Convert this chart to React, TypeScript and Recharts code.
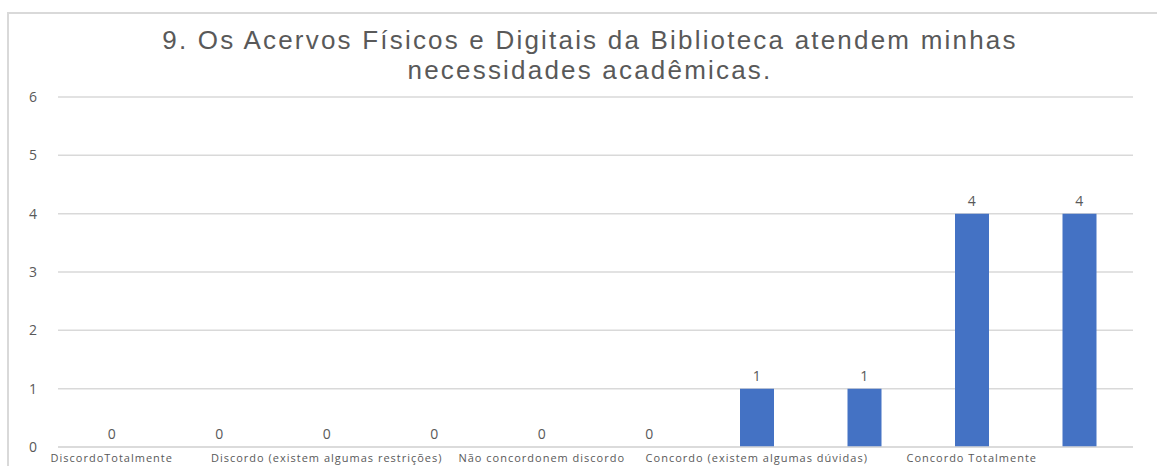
import { ComposedChart, Bar, Line, XAxis, YAxis, CartesianGrid, LabelList } from "recharts"

const categories = [
  "DiscordoTotalmente",
  "DiscordoTotalmente",
  "Discordo (existem algumas restrições)",
  "Discordo (existem algumas restrições)",
  "Não concordonem discordo",
  "Não concordonem discordo",
  "Concordo (existem algumas dúvidas)",
  "Concordo (existem algumas dúvidas)",
  "Concordo Totalmente",
  "Concordo Totalmente",
]
const counts = [0, 0, 0, 0, 0, 0, 1, 1, 4, 4]
const yTicks = [0, 1, 2, 3, 4, 5, 6]

const data = categories.map((name, i) => ({ name, count: counts[i] }))

const GRAY = "#595959"
const FONT = "'Open Sans', sans-serif"

export default function App() {
  return (
    <div style={{ position: "absolute", left: 0, top: 0, width: 1157, height: 466, background: "#fff", overflow: "hidden" }}>
      <div
        style={{
          position: "absolute",
          left: 7,
          top: 12,
          width: 1200,
          height: 500,
          border: "2px solid #d9d9d9",
        }}
      />
      <div
        style={{
          position: "absolute",
          left: 0,
          top: 25,
          width: 1180,
          textAlign: "center",
          fontFamily: "'Liberation Sans', Arial, sans-serif",
          fontSize: 26,
          letterSpacing: 2.2,
          lineHeight: "30px",
          color: GRAY,
        }}
      >
        9. Os Acervos Físicos e Digitais da Biblioteca atendem minhas
        <br />
        necessidades acadêmicas.
      </div>
      <div style={{ position: "absolute", left: 0, top: 0 }}>
        <ComposedChart width={1157} height={466} data={data} margin={{ top: 97, right: 24, left: 18, bottom: 0 }}>
          <CartesianGrid vertical={false} stroke="#d9d9d9" strokeWidth={1.5} />
          <XAxis
            dataKey="name"
            interval={1}
            tickLine={false}
            axisLine={{ stroke: "#d9d9d9", strokeWidth: 1.5 }}
            height={19}
            tickMargin={1}
            tick={{ fill: GRAY, fontSize: 11, fontFamily: FONT, letterSpacing: 1 }}
          />
          <YAxis
            domain={[0, 6]}
            ticks={yTicks}
            width={40}
            axisLine={false}
            tickLine={false}
            tickMargin={15}
            tick={{ fill: GRAY, fontSize: 14, fontFamily: FONT }}
          />
          <Bar dataKey="count" fill="#4472C4" barSize={34} isAnimationActive={false} />
          <Line
            dataKey="count"
            stroke="none"
            dot={false}
            activeDot={false}
            isAnimationActive={false}
          >
            <LabelList dataKey="count" position="top" offset={8} fill={GRAY} fontSize={14} fontFamily={FONT} />
          </Line>
        </ComposedChart>
      </div>
    </div>
  )
}
